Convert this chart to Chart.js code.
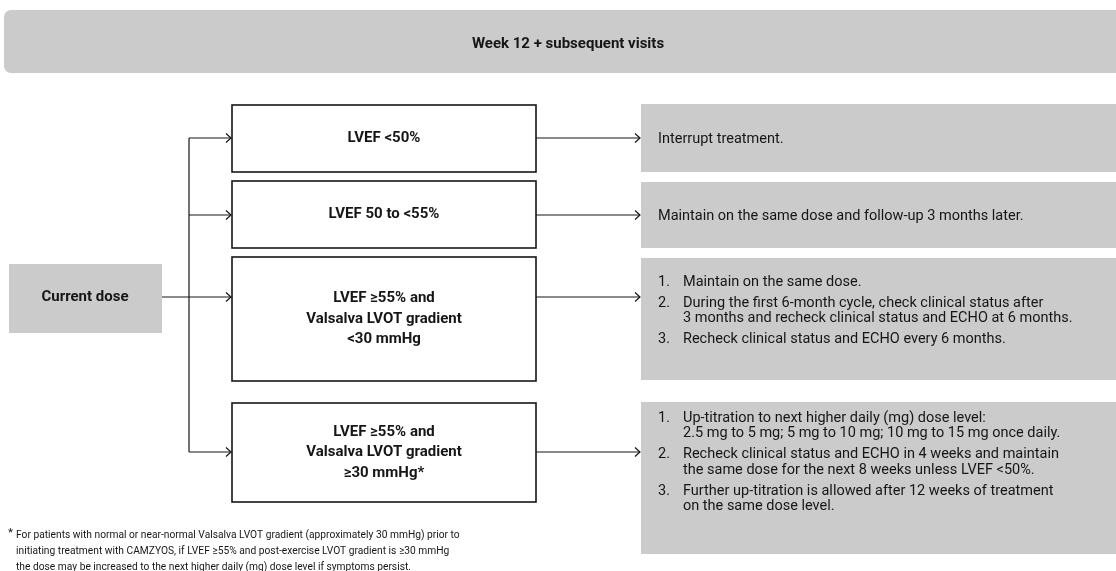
<!DOCTYPE html>
<html>
<head>
<meta charset="utf-8">
<script src="https://cdn.jsdelivr.net/npm/chart.js@4"></script>
<style>
  html, body { margin: 0; padding: 0; background: #ffffff; }
  #flow { display: block; }
</style>
</head>
<body>
<canvas id="flow" width="1116" height="571"></canvas>
<script>

// texts of the flow chart
const tituloSemana = "Week 12 + subsequent visits";
const dosisActual = "Current dose";

const condiciones = [
    ["LVEF <50%"],
    ["LVEF 50 to <55%"],
    ["LVEF \u226555% and", "Valsalva LVOT gradient", "<30 mmHg"],
    ["LVEF \u226555% and", "Valsalva LVOT gradient", "\u226530 mmHg*"]
];

const acciones = [
    [["Interrupt treatment."]],
    [["Maintain on the same dose and follow-up 3 months later."]],
    [
        ["Maintain on the same dose."],
        ["During the first 6-month cycle, check clinical status after",
         "3 months and recheck clinical status and ECHO at 6 months."],
        ["Recheck clinical status and ECHO every 6 months."]
    ],
    [
        ["Up-titration to next higher daily (mg) dose level:",
         "2.5 mg to 5 mg; 5 mg to 10 mg; 10 mg to 15 mg once daily."],
        ["Recheck clinical status and ECHO in 4 weeks and maintain",
         "the same dose for the next 8 weeks unless LVEF <50%."],
        ["Further up-titration is allowed after 12 weeks of treatment",
         "on the same dose level."]
    ]
];

const numeradas = [false, false, true, true];

const notaPie = [
    "For patients with normal or near-normal Valsalva LVOT gradient (approximately 30 mmHg) prior to",
    "initiating treatment with CAMZYOS, if LVEF \u226555% and post-exercise LVOT gradient is \u226530 mmHg",
    "the dose may be increased to the next higher daily (mg) dose level if symptoms persist."
];

// layout (in scale units)
const filasCond = [
    { top: 105, bottom: 172, flecha: 138 },
    { top: 181, bottom: 248, flecha: 215 },
    { top: 257, bottom: 381, flecha: 297 },
    { top: 403, bottom: 502, flecha: 452 }
];
const filasAccion = [
    { top: 104, bottom: 172, texto: 139 },
    { top: 182, bottom: 248, texto: 216 },
    { top: 258, bottom: 380, texto: 282 },
    { top: 402, bottom: 554, texto: 418 }
];

const GRIS = "#cbcbcb";
const TINTA = "#161616";
const FUENTE = "Roboto, 'Liberation Sans', sans-serif";

function flecha(ctx, x1, y1, x2, y2) {
    ctx.beginPath();
    ctx.moveTo(x1, y1);
    ctx.lineTo(x2, y2);
    ctx.stroke();
    ctx.beginPath();
    ctx.moveTo(x2 - 5, y2 - 4.5);
    ctx.lineTo(x2, y2);
    ctx.lineTo(x2 - 5, y2 + 4.5);
    ctx.stroke();
}

function texto(ctx, t, x, y, alinear, sx) {
    ctx.save();
    ctx.translate(x, y);
    ctx.scale(sx, 1);
    ctx.textAlign = alinear;
    ctx.fillText(t, 0, 0);
    ctx.restore();
}

const dibujoFlujo = {
    id: "dibujoFlujo",
    afterDraw(chart) {
        const ctx = chart.ctx;
        const sx = chart.scales.x;
        const sy = chart.scales.y;
        const X = v => sx.getPixelForValue(v);
        const Y = v => sy.getPixelForValue(v);

        ctx.save();
        ctx.textBaseline = "middle";

        // header
        ctx.fillStyle = GRIS;
        ctx.beginPath();
        ctx.roundRect(X(4), Y(10), X(1130) - X(4), Y(73) - Y(10), 7);
        ctx.fill();
        ctx.fillStyle = TINTA;
        ctx.font = "bold 15px " + FUENTE;
        texto(ctx, tituloSemana, X(568), Y(44), "center", 1);

        // current dose box
        ctx.fillStyle = GRIS;
        ctx.fillRect(X(9), Y(264), X(162) - X(9), Y(333) - Y(264));
        ctx.fillStyle = TINTA;
        ctx.font = "bold 15px " + FUENTE;
        texto(ctx, dosisActual, X(85), Y(297), "center", 1);

        // connectors
        ctx.strokeStyle = TINTA;
        ctx.lineWidth = 1.2;
        ctx.beginPath();
        ctx.moveTo(X(162), Y(297));
        ctx.lineTo(X(189), Y(297));
        ctx.moveTo(X(189), Y(filasCond[0].flecha));
        ctx.lineTo(X(189), Y(filasCond[3].flecha));
        ctx.stroke();

        condiciones.forEach((lineas, i) => {
            const f = filasCond[i];
            flecha(ctx, X(189), Y(f.flecha), X(231), Y(f.flecha));
            flecha(ctx, X(536), Y(f.flecha), X(640), Y(f.flecha));

            ctx.lineWidth = 1.6;
            ctx.strokeRect(X(232), Y(f.top), X(536) - X(232), Y(f.bottom) - Y(f.top));
            ctx.lineWidth = 1.2;

            ctx.fillStyle = TINTA;
            ctx.font = "bold 15px " + FUENTE;
            const centro = (f.top + f.bottom) / 2;
            const alto = 20.5;
            lineas.forEach((t, k) => {
                texto(ctx, t, X(384), Y(centro + (k - (lineas.length - 1) / 2) * alto), "center", 1);
            });
        });

        // action boxes
        acciones.forEach((items, i) => {
            const f = filasAccion[i];
            ctx.fillStyle = GRIS;
            ctx.fillRect(X(641), Y(f.top), X(1116) - X(641), Y(f.bottom) - Y(f.top));

            ctx.fillStyle = TINTA;
            ctx.font = "14.5px " + FUENTE;
            let y = f.texto;
            items.forEach((lineas, k) => {
                if (numeradas[i]) {
                    texto(ctx, (k + 1) + ".", X(658), Y(y), "left", 1);
                }
                lineas.forEach((t, j) => {
                    texto(ctx, t, X(numeradas[i] ? 683 : 658), Y(y), "left", 1);
                    if (j < lineas.length - 1) y += 15.5;
                });
                y += 21;
            });
        });

        // footnote
        ctx.fillStyle = TINTA;
        ctx.font = "11.5px " + FUENTE;
        texto(ctx, "*", X(8), Y(533), "left", 1);
        notaPie.forEach((t, k) => {
            texto(ctx, t, X(16), Y(535 + k * 16), "left", 0.89);
        });

        ctx.restore();
    }
};

new Chart(
    document.getElementById("flow"),
    {
        type: "scatter",
        data: {
            datasets: [
                {
                    data: [],
                    pointRadius: 0
                }
            ]
        },
        options: {
            responsive: false,
            animation: false,
            layout: { padding: 0 },
            plugins: {
                legend: { display: false },
                tooltip: { enabled: false }
            },
            scales: {
                x: { type: "linear", min: 0, max: 1116, display: false },
                y: { type: "linear", min: 0, max: 571, reverse: true, display: false }
            }
        },
        plugins: [dibujoFlujo]
    }
);
</script>
</body>
</html>
